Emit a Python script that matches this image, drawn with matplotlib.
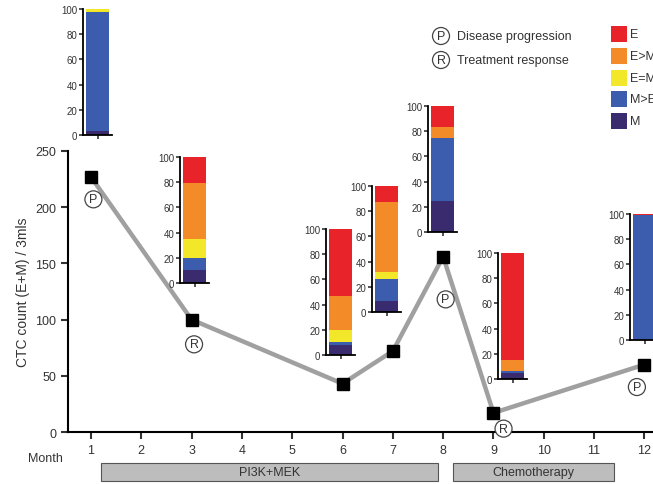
import matplotlib
matplotlib.use("Agg")
from matplotlib import pyplot as plt
from matplotlib.patches import Rectangle

plt.rcParams["font.family"] = ["Liberation Sans", "DejaVu Sans"]

# CTC counts per month
months = [1, 3, 6, 7, 8, 9, 12]
ctc = [227, 100, 43, 72, 156, 17, 60]

# phenotype composition (%) at each month
categories = ["E", "E>M", "E=M", "M>E", "M"]
colors = ["#e8232a", "#f38b29", "#f2e829", "#3c5cad", "#3a2a6e"]
comp_M = [3, 10, 8, 9, 25, 5, 0]
comp_MgE = [95, 10, 2, 17, 50, 1, 99]
comp_EeM = [2, 15, 10, 6, 0, 0, 0]
comp_EgM = [0, 44, 27, 55, 8, 9, 0]
comp_E = [0, 21, 53, 13, 17, 85, 1]

# event markers
events = [(1, "P"), (3, "R"), (8, "P"), (9, "R"), (12, "P")]
treatments = [("PI3K+MEK", 1.2, 7.9), ("Chemotherapy", 8.2, 11.4)]

W, H = 653, 485
fig = plt.figure(figsize=(W / 100, H / 100), dpi=100)

def px_axes(x0, y_top, w, h):
    return fig.add_axes([x0 / W, 1 - (y_top + h) / H, w / W, h / H])

ax = px_axes(68, 152, 585, 281)
ax.plot(months, ctc, color="#a0a0a0", lw=3.2, zorder=1, solid_capstyle="round")
ax.plot(months, ctc, ls="none", marker="s", ms=8.5, color="black", zorder=2)
ax.set_xlim(0.545, 12.17)
ax.set_ylim(0, 250)
ax.set_xticks(range(1, 13))
ax.set_yticks([0, 50, 100, 150, 200, 250])
ax.spines["top"].set_visible(False)
ax.spines["right"].set_visible(False)
for s in ["left", "bottom"]:
    ax.spines[s].set_linewidth(1.5)
ax.tick_params(labelsize=9, width=1.5, length=5, colors="#333333")
ax.set_ylabel("CTC count (E+M) / 3mls", fontsize=10, color="#333333")
ax.text(0.45, -0.07, "Month", transform=ax.get_xaxis_transform(), ha="right",
        va="top", fontsize=9, color="#333333")
ax.patch.set_alpha(0)

# circled P / R annotations
offsets = {1: (0.05, -20), 3: (0.05, -22), 8: (0.05, -38), 9: (0.2, -14), 12: (-0.15, -20)}
for m, letter in events:
    y = ctc[months.index(m)]
    dx, dy = offsets[m]
    ax.text(m + dx, y + dy, letter, ha="center", va="center", fontsize=9,
            color="#333333", clip_on=False,
            bbox=dict(boxstyle="circle,pad=0.2", fc="white", ec="#444444", lw=0.9))

# treatment bars
for name, x0, x1 in treatments:
    ax.add_patch(Rectangle((x0, -0.11), x1 - x0, -0.065, transform=ax.get_xaxis_transform(),
                           fc="#bdbdbd", ec="#555555", lw=0.8, clip_on=False))
    ax.text((x0 + x1) / 2, -0.142, name, transform=ax.get_xaxis_transform(),
            ha="center", va="center", fontsize=9, color="#333333")

# inset stacked bars (left spine x, top y in pixels)
inset_pos = [(83, 10), (180, 158), (326, 230), (372, 187), (428, 107), (498, 254), (630, 215)]
stack = [comp_M, comp_MgE, comp_EeM, comp_EgM, comp_E]
stack_colors = colors[::-1]
for i, (x0, y0) in enumerate(inset_pos):
    iax = px_axes(x0, y0, 29, 126)
    bottom = 0
    for vals, c in zip(stack, stack_colors):
        iax.bar(0, vals[i], bottom=bottom, width=1.0, color=c, edgecolor="none")
        bottom += vals[i]
    iax.set_xlim(-0.65, 0.65)
    iax.set_ylim(0, 100)
    iax.set_yticks([0, 20, 40, 60, 80, 100])
    iax.set_xticks([0])
    iax.set_xticklabels([])
    iax.spines["top"].set_visible(False)
    iax.spines["right"].set_visible(False)
    for s in ["left", "bottom"]:
        iax.spines[s].set_linewidth(1.3)
    iax.tick_params(labelsize=7, width=1.2, length=3, pad=1, colors="#333333")
    iax.patch.set_alpha(0)

# legends
for j, (letter, label) in enumerate([("P", "Disease progression"), ("R", "Treatment response")]):
    y = 1 - (37 + 24 * j) / H
    fig.text(441 / W, y, letter, ha="center", va="center", fontsize=9, color="#333333",
             bbox=dict(boxstyle="circle,pad=0.2", fc="white", ec="#444444", lw=0.9))
    fig.text(457 / W, y, label, ha="left", va="center", fontsize=9, color="#333333")

for k, (cat, c) in enumerate(zip(categories, colors)):
    yc = 35 + 21.8 * k
    fig.patches.append(Rectangle((611 / W, 1 - (yc + 8) / H), 16 / W, 16 / H,
                                 transform=fig.transFigure, fc=c, ec="none"))
    fig.text(630 / W, 1 - yc / H, cat, ha="left", va="center", fontsize=9, color="#333333")

plt.savefig("out.png", dpi=100)
